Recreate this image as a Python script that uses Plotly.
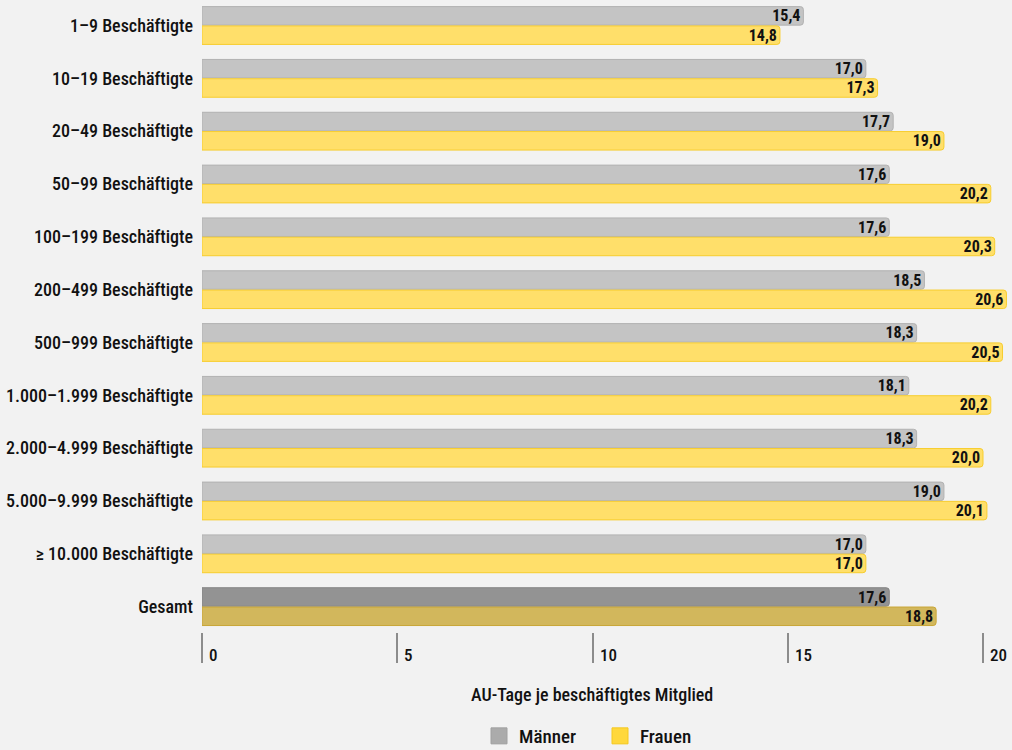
import plotly.graph_objects as go

# Betriebsgrößenklassen (oben nach unten)
categories = [
    "1–9 Beschäftigte",
    "10–19 Beschäftigte",
    "20–49 Beschäftigte",
    "50–99 Beschäftigte",
    "100–199 Beschäftigte",
    "200–499 Beschäftigte",
    "500–999 Beschäftigte",
    "1.000–1.999 Beschäftigte",
    "2.000–4.999 Beschäftigte",
    "5.000–9.999 Beschäftigte",
    "≥ 10.000 Beschäftigte",
    "Gesamt",
]
maenner = [15.4, 17.0, 17.7, 17.6, 17.6, 18.5, 18.3, 18.1, 18.3, 19.0, 17.0, 17.6]
frauen = [14.8, 17.3, 19.0, 20.2, 20.3, 20.6, 20.5, 20.2, 20.0, 20.1, 17.0, 18.8]
x_ticks = [0, 5, 10, 15, 20]
x_title = "AU-Tage je beschäftigtes Mitglied"

FONT = "Roboto Condensed"
BG = "#f2f2f2"
W, H = 1012, 750
ML, MR, MT, MB = 202, 2, 0, 118
PX_PER_DAY = 39.05
plot_w = W - ML - MR
plot_h = H - MT - MB

gray, gray_total = "#c4c4c4", "#939393"
gray_edge, gray_total_edge = "#b2b2b2", "#858585"
yellow, yellow_total = "#ffdf6a", "#d2b75c"
yellow_edge, yellow_total_edge = "#f7cd2e", "#c9a636"


def label(v):
    return f"{v:.1f}".replace(".", ",")


def colors(base, total, n):
    return [base] * (n - 1) + [total]


def px_x(px):
    return (px - ML) / plot_w


def px_y(px):
    return (H - MB - px) / plot_h


n = len(categories)
fig = go.Figure()
fig.add_trace(go.Bar(
    name="Männer", y=categories, x=maenner, orientation="h", showlegend=False,
    marker=dict(color=colors(gray, gray_total, n),
                line=dict(color=colors(gray_edge, gray_total_edge, n), width=1),
                cornerradius=3),
    text=[label(v) for v in maenner], textposition="inside", insidetextanchor="end",
    textfont=dict(family=FONT, size=16, weight="bold", color="#111111"),
    hoverinfo="skip",
))
fig.add_trace(go.Bar(
    name="Frauen", y=categories, x=frauen, orientation="h", showlegend=False,
    marker=dict(color=colors(yellow, yellow_total, n),
                line=dict(color=colors(yellow_edge, yellow_total_edge, n), width=1),
                cornerradius=3),
    text=[label(v) for v in frauen], textposition="inside", insidetextanchor="end",
    textfont=dict(family=FONT, size=16, weight="bold", color="#111111"),
    hoverinfo="skip",
))

# legend entries: square swatches
for name, col, edge in [("Männer", "#ababab", "#a0a0a0"), ("Frauen", "#ffd83c", "#f5c81e")]:
    fig.add_trace(go.Scatter(
        name=name, x=[None], y=[None], mode="markers",
        marker=dict(symbol="square", size=17, color=col, line=dict(color=edge, width=1)),
        hoverinfo="skip",
    ))

# tick labels sit to the right of each tick line
for t in x_ticks:
    fig.add_annotation(x=t, y=0, xref="x", yref="paper", text=str(t), showarrow=False,
                       xanchor="left", yanchor="middle", xshift=5, yshift=-23,
                       font=dict(family=FONT, size=17, weight=500, color="#111111"))

fig.add_annotation(x=px_x(592), y=px_y(694), xref="paper", yref="paper", text=x_title,
                   showarrow=False, xanchor="center", yanchor="middle",
                   font=dict(family=FONT, size=18, weight=500, color="#111111"))

fig.update_layout(
    width=W, height=H,
    margin=dict(l=ML, r=MR, t=MT, b=MB, autoexpand=False),
    paper_bgcolor=BG, plot_bgcolor=BG,
    barmode="group", bargap=0.27, bargroupgap=0.04,
    font=dict(family=FONT, size=17, color="#111111"),
    uniformtext=dict(mode="show", minsize=16),
    xaxis=dict(range=[0, plot_w / PX_PER_DAY], tickvals=x_ticks, showticklabels=False,
               ticks="outside", ticklen=30, tickwidth=2, tickcolor="#8c8c8c",
               showgrid=False, zeroline=False, showline=False, fixedrange=True),
    yaxis=dict(range=[11.48, -0.483], showgrid=False, zeroline=False, showline=False,
               ticks="", ticklabelstandoff=8,
               tickfont=dict(family=FONT, size=18, weight=500, color="#111111"),
               fixedrange=True),
    legend=dict(orientation="h", x=px_x(479), xanchor="left", y=px_y(736), yanchor="middle",
                font=dict(family=FONT, size=19, weight=500, color="#111111"),
                entrywidth=76, itemsizing="trace", traceorder="normal",
                bgcolor="rgba(0,0,0,0)"),
    showlegend=True,
)

fig.write_html("out.html")
